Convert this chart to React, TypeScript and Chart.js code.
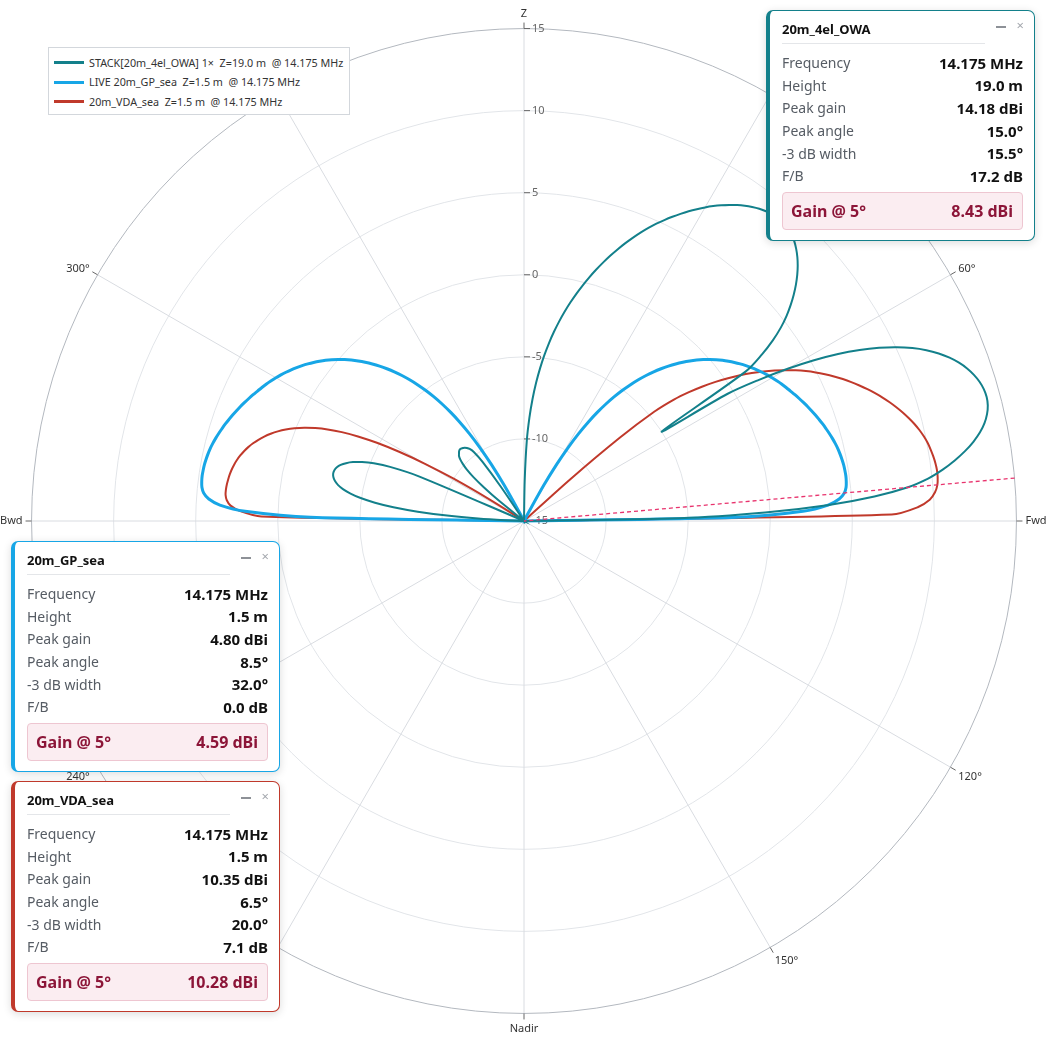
import { useEffect, useRef } from 'react';
import { Chart, registerables } from 'chart.js';

Chart.register(...registerables);

const FONT = '"Noto Sans", "DejaVu Sans", sans-serif';

// radial axis in dBi, angular ticks in degrees from zenith (clockwise)
const R_MIN = -15;
const R_MAX = 15;
const R_TICKS = [-15, -10, -5, 0, 5, 10, 15];
const ANGLE_TICKS = [0, 30, 60, 90, 120, 150, 180, 210, 240, 270, 300, 330];
const ANGLE_TICK_LABELS = ['Z', '30°', '60°', 'Fwd', '120°', '150°', 'Nadir', '210°', '240°', 'Bwd', '300°', '330°'];
const GAIN_REF_ELEV = 5;

// gain (dBi) for each degree of elevation, index 0..90
// *_FWD from the forward horizon, *_BWD from the backward horizon
const STACK_FWD = [
  -20, -5.5, -0.3, 3.6, 6.4, 8.43, 9.75, 10.7, 11.5, 12.2,
  12.8, 13.3, 13.68, 13.95, 14.12, 14.18, 14.14, 14.02, 13.82, 13.55,
  13.2, 12.77, 12.25, 11.63, 10.9, 10.05, 9.07, 7.95, 6.67, 5.2,
  3.55, 1.7, -0.4, -5.0, 1.3, 2.7, 3.75, 4.6, 5.3, 5.9,
  6.45, 6.95, 7.4, 7.8, 8.15, 8.45, 8.7, 8.88, 9.0, 9.07,
  9.08, 9.04, 8.95, 8.82, 8.65, 8.45, 8.22, 7.96, 7.68, 7.38,
  7.06, 6.72, 6.37, 6.0, 5.62, 5.23, 4.83, 4.4, 3.95, 3.48,
  3.0, 2.5, 1.99, 1.46, 0.92, 0.37, -0.2, -0.78, -1.38, -2.0,
  -2.65, -3.33, -4.05, -4.82, -5.65, -6.55, -7.55, -8.7, -10.1, -12.5,
  -20,
];
const STACK_BWD = [
  -20, -14.8, -13.8, -12.2, -10.3, -8.5, -7.0, -5.85, -4.95, -4.3,
  -3.8, -3.45, -3.22, -3.08, -3.02, -3.04, -3.14, -3.32, -3.6, -3.98,
  -4.5, -5.2, -6.2, -8.0, -20, -20, -20, -20, -20, -20,
  -20, -20, -20, -20, -20, -20, -20, -20, -20, -13,
  -11.8, -10.9, -10.3, -9.9, -9.6, -9.4, -9.3, -9.2, -9.15, -9.15,
  -9.2, -9.25, -9.35, -9.5, -9.8, -10.6, -12.5, -20, -20, -20,
  -20, -20, -20, -20, -20, -20, -20, -20, -20, -20,
  -20, -20, -20, -20, -20, -20, -20, -20, -20, -20,
  -20, -20, -20, -20, -20, -20, -20, -20, -20, -20,
  -20,
];
const GP_FWD = [
  -20, -2.0, 2.0, 3.55, 4.25, 4.59, 4.73, 4.78, 4.8, 4.79,
  4.77, 4.73, 4.68, 4.62, 4.54, 4.45, 4.35, 4.24, 4.13, 4.01,
  3.89, 3.76, 3.63, 3.49, 3.35, 3.21, 3.06, 2.92, 2.77, 2.61,
  2.45, 2.28, 2.1, 1.91, 1.71, 1.5, 1.28, 1.05, 0.81, 0.56,
  0.29, 0.0, -0.3, -0.62, -0.96, -1.32, -1.7, -2.1, -2.52, -2.96,
  -3.43, -3.93, -4.46, -5.03, -5.64, -6.3, -7.02, -7.82, -8.72, -9.76,
  -11.0, -12.5, -14.4, -20, -20, -20, -20, -20, -20, -20,
  -20, -20, -20, -20, -20, -20, -20, -20, -20, -20,
  -20, -20, -20, -20, -20, -20, -20, -20, -20, -20,
  -20,
];
const GP_BWD = [
  -20, -2.0, 2.0, 3.55, 4.25, 4.59, 4.73, 4.78, 4.8, 4.79,
  4.77, 4.73, 4.68, 4.62, 4.54, 4.45, 4.35, 4.24, 4.13, 4.01,
  3.89, 3.76, 3.63, 3.49, 3.35, 3.21, 3.06, 2.92, 2.77, 2.61,
  2.45, 2.28, 2.1, 1.91, 1.71, 1.5, 1.28, 1.05, 0.81, 0.56,
  0.29, 0.0, -0.3, -0.62, -0.96, -1.32, -1.7, -2.1, -2.52, -2.96,
  -3.43, -3.93, -4.46, -5.03, -5.64, -6.3, -7.02, -7.82, -8.72, -9.76,
  -11.0, -12.5, -14.4, -20, -20, -20, -20, -20, -20, -20,
  -20, -20, -20, -20, -20, -20, -20, -20, -20, -20,
  -20, -20, -20, -20, -20, -20, -20, -20, -20, -20,
  -20,
];
const VDA_FWD = [
  -20, 7.4, 9.0, 9.75, 10.1, 10.28, 10.34, 10.35, 10.31, 10.24,
  10.15, 10.04, 9.89, 9.71, 9.5, 9.26, 9.0, 8.72, 8.42, 8.1,
  7.76, 7.41, 7.04, 6.66, 6.26, 5.84, 5.4, 4.94, 4.45, 3.93,
  3.38, 2.8, 2.19, 1.55, 0.88, 0.17, -0.58, -1.38, -2.25, -3.25,
  -4.65, -7.3, -11.2, -20, -20, -20, -20, -20, -20, -20,
  -20, -20, -20, -20, -20, -20, -20, -20, -20, -20,
  -20, -20, -20, -20, -20, -20, -20, -20, -20, -20,
  -20, -20, -20, -20, -20, -20, -20, -20, -20, -20,
  -20, -20, -20, -20, -20, -20, -20, -20, -20, -20,
  -20,
];
const VDA_BWD = [
  -20, 1.0, 2.3, 2.9, 3.15, 3.25, 3.26, 3.24, 3.2, 3.15,
  3.08, 2.99, 2.88, 2.74, 2.58, 2.39, 2.17, 1.92, 1.64, 1.32,
  0.96, 0.55, 0.08, -0.46, -1.08, -1.8, -2.65, -3.65, -4.85, -6.3,
  -8.0, -10.0, -12.6, -20, -20, -20, -20, -20, -20, -20,
  -20, -20, -20, -20, -20, -20, -20, -20, -20, -20,
  -20, -20, -20, -20, -20, -20, -20, -20, -20, -20,
  -20, -20, -20, -20, -20, -20, -20, -20, -20, -20,
  -20, -20, -20, -20, -20, -20, -20, -20, -20, -20,
  -20, -20, -20, -20, -20, -20, -20, -20, -20, -20,
  -20,
];

const SERIES = [
  { name: 'STACK[20m_4el_OWA] 1×  Z=19.0 m  @ 14.175 MHz', fwd: STACK_FWD, bwd: STACK_BWD, color: '#13808b', width: 2 },
  { name: 'LIVE 20m_GP_sea  Z=1.5 m  @ 14.175 MHz', fwd: GP_FWD, bwd: GP_BWD, color: '#17a6e6', width: 3 },
  { name: '20m_VDA_sea  Z=1.5 m  @ 14.175 MHz', fwd: VDA_FWD, bwd: VDA_BWD, color: '#c0392b', width: 2 },
];

const PANELS = [
  {
    title: '20m_4el_OWA', color: '#13808b', left: 766, top: 10,
    rows: [['Frequency', '14.175 MHz'], ['Height', '19.0 m'], ['Peak gain', '14.18 dBi'], ['Peak angle', '15.0°'], ['-3 dB width', '15.5°'], ['F/B', '17.2 dB']],
    gain: '8.43 dBi',
  },
  {
    title: '20m_GP_sea', color: '#17a6e6', left: 11, top: 541,
    rows: [['Frequency', '14.175 MHz'], ['Height', '1.5 m'], ['Peak gain', '4.80 dBi'], ['Peak angle', '8.5°'], ['-3 dB width', '32.0°'], ['F/B', '0.0 dB']],
    gain: '4.59 dBi',
  },
  {
    title: '20m_VDA_sea', color: '#c0392b', left: 11, top: 781,
    rows: [['Frequency', '14.175 MHz'], ['Height', '1.5 m'], ['Peak gain', '10.35 dBi'], ['Peak angle', '6.5°'], ['-3 dB width', '20.0°'], ['F/B', '7.1 dB']],
    gain: '10.28 dBi',
  },
];

// radar index = degrees clockwise from zenith, so forward elevation e sits at 90 - e
function toPolar(fwd: number[], bwd: number[]) {
  const out: (number | null)[] = new Array(360).fill(null);
  fwd.forEach((g, e) => { out[90 - e] = Math.max(g, R_MIN); });
  bwd.forEach((g, e) => { if (e < 90) out[270 + e] = Math.max(g, R_MIN); });
  return out;
}

// label line height nudges the text onto the tick the way the original sits
function labelLineHeight(i: number) {
  if (i === 0 || i === 180) return 1.1;
  if (i > 90 && i < 270) return 1.0;
  return 0.3;
}

const axisMarks = {
  id: 'axisMarks',
  beforeDatasetsDraw(chart: any) {
    const r = chart.scales.r;
    const ctx = chart.ctx as CanvasRenderingContext2D;
    ctx.save();
    ctx.strokeStyle = '#666';
    ctx.lineWidth = 1;
    ctx.fillStyle = '#666';
    ctx.font = `11px ${FONT}`;
    ctx.textAlign = 'left';
    ctx.textBaseline = 'middle';
    R_TICKS.forEach((v) => {
      const y = r.yCenter - r.getDistanceFromCenterForValue(v);
      ctx.beginPath();
      ctx.moveTo(r.xCenter, y);
      ctx.lineTo(r.xCenter + 6, y);
      ctx.stroke();
      ctx.fillText(String(v), r.xCenter + 8, y);
    });
    ANGLE_TICKS.forEach((a) => {
      const p0 = r.getPointPosition(a, r.drawingArea);
      const p1 = r.getPointPosition(a, r.drawingArea + 6);
      ctx.beginPath();
      ctx.moveTo(p0.x, p0.y);
      ctx.lineTo(p1.x, p1.y);
      ctx.stroke();
    });
    ctx.restore();
  },
};

function InfoPanel({ title, color, left, top, rows, gain }: any) {
  return (
    <div style={{
      position: 'absolute', left, top, width: 269, height: 231, boxSizing: 'border-box',
      background: '#fff', border: `1.5px solid ${color}`, borderLeft: `4px solid ${color}`,
      borderRadius: 7, boxShadow: '0 2px 9px rgba(0,0,0,0.14)', fontFamily: FONT,
      padding: '0 11px 0 12px',
    }}>
      <div style={{ position: 'absolute', right: 28, top: 14.5, width: 10, height: 2, background: '#8d9197' }} />
      <div style={{ position: 'absolute', right: 10, top: 6, fontSize: 13, lineHeight: '16px', color: '#a3a7ad' }}>×</div>
      <div style={{
        height: 33, boxSizing: 'border-box', borderBottom: '1px solid #e4e6e9', marginRight: 38,
        paddingTop: 9.5, fontSize: 13, lineHeight: '17px', fontWeight: 700, color: '#111',
      }}>{title}</div>
      <div style={{ marginTop: 7.5 }}>
        {rows.map(([k, v]: string[]) => (
          <div key={k} style={{ display: 'flex', justifyContent: 'space-between', alignItems: 'center', height: 22.6 }}>
            <span style={{ color: '#565c64', fontSize: 14 }}>{k}</span>
            <span style={{ color: '#111', fontWeight: 700, fontSize: 15 }}>{v}</span>
          </div>
        ))}
      </div>
      <div style={{
        marginTop: 5, height: 38, boxSizing: 'border-box', background: '#fbedf1',
        border: '1px solid #eec6d1', borderRadius: 4, display: 'flex', alignItems: 'center',
        justifyContent: 'space-between', padding: '0 9px 0 8px', fontSize: 16, fontWeight: 700, color: '#8c1538',
      }}>
        <span>Gain @ {GAIN_REF_ELEV}°</span>
        <span>{gain}</span>
      </div>
    </div>
  );
}

export default function App() {
  const canvasRef = useRef<HTMLCanvasElement>(null);

  useEffect(() => {
    if (!canvasRef.current) return;
    const labels = Array.from({ length: 360 }, (_, i) => {
      const k = ANGLE_TICKS.indexOf(i);
      return k >= 0 ? ANGLE_TICK_LABELS[k] : '';
    });
    const marker: (number | null)[] = new Array(360).fill(null);
    marker[90 - GAIN_REF_ELEV + 1] = R_MIN;
    marker[90 - GAIN_REF_ELEV] = R_MAX;

    const chart = new Chart(canvasRef.current, {
      type: 'radar',
      data: {
        labels,
        datasets: [
          {
            label: `Gain @ ${GAIN_REF_ELEV}°`, data: marker, borderColor: '#e8336d', borderWidth: 1.3,
            borderDash: [4, 3], fill: false, pointRadius: 0, spanGaps: false, tension: 0,
          },
          ...SERIES.map((s) => ({
            label: s.name, data: toPolar(s.fwd, s.bwd), borderColor: s.color, borderWidth: s.width,
            fill: false, pointRadius: 0, spanGaps: false, tension: 0.3,
          })),
        ],
      },
      options: {
        animation: false,
        responsive: true,
        maintainAspectRatio: false,
        events: [],
        layout: { padding: { top: 6, bottom: 6, left: 0, right: 2 } },
        elements: { point: { radius: 0 } },
        plugins: { legend: { display: false }, tooltip: { enabled: false } },
        scales: {
          r: {
            min: R_MIN,
            max: R_MAX,
            ticks: { display: false, stepSize: 5 },
            grid: {
              circular: true,
              lineWidth: 1,
              color: (c: any) => (c.tick && c.tick.value === R_MAX ? '#b3b8bf' : '#e2e5e9'),
            },
            angleLines: {
              display: true,
              color: '#d9dce1',
              lineWidth: (c: any) => (c.index % 30 === 0 ? 1 : 0),
            },
            pointLabels: {
              display: true,
              padding: 9,
              color: '#333',
              font: (c: any) => ({ family: FONT, size: 11, lineHeight: labelLineHeight(c.index) }),
            },
          },
        },
      },
      plugins: [axisMarks],
    });
    return () => chart.destroy();
  }, []);

  return (
    <div style={{ position: 'fixed', left: 0, top: 0, width: '100vw', height: '100vh', background: '#fff' }}>
      <canvas ref={canvasRef} />
      <div style={{
        position: 'absolute', left: 48, top: 47, width: 302, height: 68, boxSizing: 'border-box',
        border: '1px solid #d3d7dc', background: '#fff', paddingTop: 5, fontFamily: FONT, fontSize: 10.75, color: '#333',
      }}>
        {SERIES.map((s) => (
          <div key={s.name} style={{ display: 'flex', alignItems: 'center', height: 19.5 }}>
            <div style={{ width: 30, height: 3, background: s.color, marginLeft: 5, marginRight: 5 }} />
            <span style={{ whiteSpace: 'pre' }}>{s.name}</span>
          </div>
        ))}
      </div>
      {PANELS.map((p) => <InfoPanel key={p.title} {...p} />)}
    </div>
  );
}
